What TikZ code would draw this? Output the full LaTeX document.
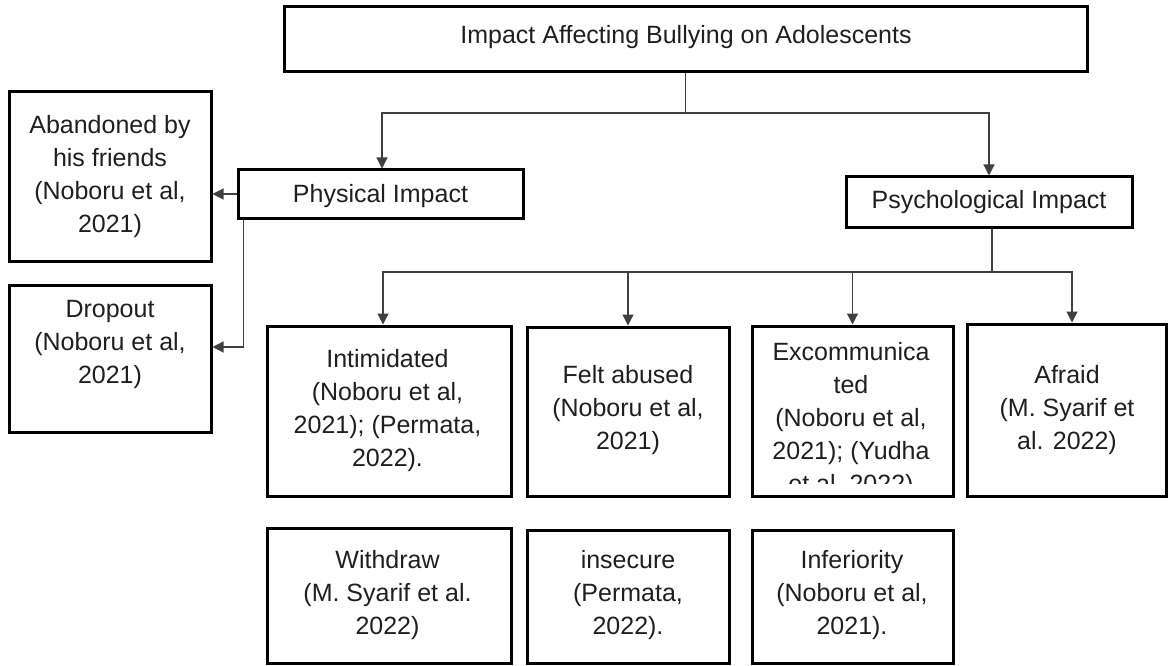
\documentclass[tikz,border=0pt]{standalone}
\usepackage{fontspec}
\setmainfont{Liberation Sans}
\usetikzlibrary{arrows.meta}
\begin{document}
\begin{tikzpicture}[x=1pt,y=-1pt,
  box/.style={draw=black, line width=3pt, inner sep=0pt},
  txt/.style={anchor=north, inner sep=0pt, align=center, text=black!88,
    font=\fontsize{25}{33}\selectfont},
  link/.style={draw=black!75, line width=1.2pt},
  arr/.style={link, -{Triangle[length=11pt,width=11pt]}}]
\useasboundingbox (0,0) rectangle (1168,666);

% boxes
\node[box, minimum width=803pt, minimum height=65pt] (top) at (685.5,39.5) {};
\node[box, minimum width=285pt, minimum height=48pt] (phys) at (380.5,194) {};
\node[box, minimum width=286pt, minimum height=50pt] (psych) at (989,202) {};
\node[box, minimum width=202pt, minimum height=169pt] (aband) at (110,176.5) {};
\node[box, minimum width=202pt, minimum height=147pt] (drop) at (110,358.5) {};
\node[box, minimum width=244pt, minimum height=170pt] (intim) at (389,411) {};
\node[box, minimum width=202pt, minimum height=169pt] (felt) at (628,411.5) {};
\node[box, minimum width=201pt, minimum height=170pt] (excomm) at (852.5,411) {};
\node[box, minimum width=199pt, minimum height=172pt] (afraid) at (1066.5,410) {};
\node[box, minimum width=244pt, minimum height=135pt] (withdraw) at (389,595.5) {};
\node[box, minimum width=202pt, minimum height=133pt] (insecure) at (628,596.5) {};
\node[box, minimum width=201pt, minimum height=133pt] (infer) at (852.5,596.5) {};

% texts
\node[txt] (top-t) at (686,25) {Impact Affecting Bullying on Adolescents};
\node[txt] (phys-t) at (380.5,184) {Physical Impact};
\node[txt] (psych-t) at (989,190) {Psychological Impact};
\node[txt] (aband-t) at (110,115) {Abandoned by\\his friends\\(Noboru et al,\\2021)};
\node[txt] (drop-t) at (110,300) {Dropout\\(Noboru et al,\\2021)};
\node[txt] (intim-t) at (387.5,349) {Intimidated\\(Noboru et al,\\2021); (Permata,\\2022).};
\node[txt] (felt-t) at (628,365) {Felt abused\\(Noboru et al,\\2021)};
\begin{scope}
  \clip (752,326) rectangle (953,483);
  \node[txt] (excomm-t) at (851,342) {Excommunica\\ted\\(Noboru et al,\\2021); (Yudha\\et al, 2022)};
\end{scope}
\node[txt] (afraid-t) at (1067,365) {Afraid\\(M. Syarif et\\al. 2022)};
\node[txt] (withdraw-t) at (387.5,550) {Withdraw\\(M. Syarif et al.\\2022)};
\node[txt] (insecure-t) at (628,550) {insecure\\(Permata,\\2022).};
\node[txt] (infer-t) at (852,550) {Inferiority\\(Noboru et al,\\2021).};

% connectors
\coordinate (hubA) at (686,113);
\draw[link] (top.south) -- (top.south |- hubA);
\draw[arr] (top.south |- hubA) -| ([xshift=1.5pt]phys.north);
\draw[arr] (top.south |- hubA) -| (psych.north);

\coordinate (hubB) at (989,272);
\draw[link] ([xshift=3pt]psych.south) -- ([xshift=3pt]psych.south |- hubB);
\draw[arr] ([xshift=3pt]psych.south |- hubB) -| ([xshift=-6pt]intim.north);
\draw[arr] ([xshift=3pt]psych.south |- hubB) -| (felt.north);
\draw[arr] ([xshift=3pt]psych.south |- hubB) -| (excomm.north);
\draw[arr] ([xshift=3pt]psych.south |- hubB) -| ([xshift=5.5pt]afraid.north);

\draw[arr] (phys.west) -- (phys.west -| aband.east);
\draw[arr] ([xshift=7pt]phys.south west) |- ([yshift=11.5pt]drop.east);
\end{tikzpicture}
\end{document}
